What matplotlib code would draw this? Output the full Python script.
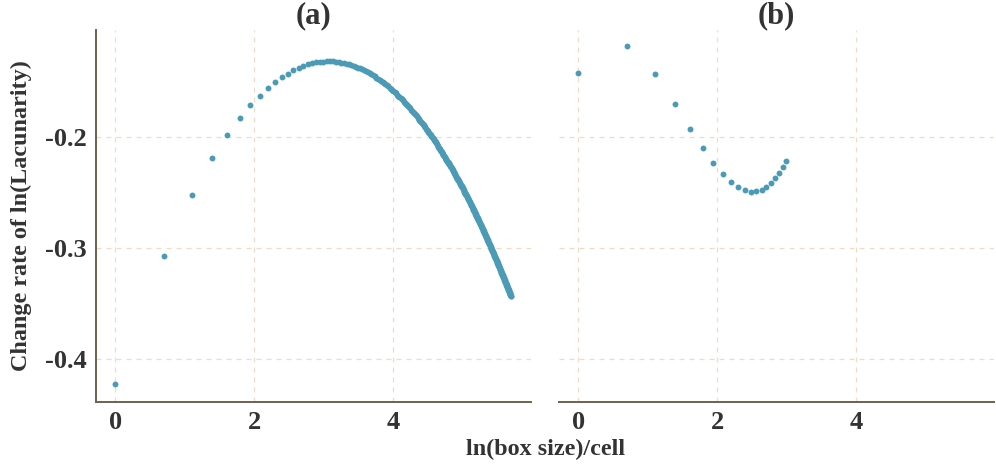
import numpy as np
import matplotlib
matplotlib.use("Agg")
import matplotlib.pyplot as plt

# ---------------- data ----------------
panel_titles = ["(a)", "(b)"]
x_label = "ln(box size)/cell"
y_label = "Change rate of ln(Lacunarity)"
x_ticks = [0, 2, 4]
y_ticks = [-0.4, -0.3, -0.2]
y_tick_labels = ["-0.4", "-0.3", "-0.2"]

# panel (a): change rate for box sizes 1, 2, 3, ...
rate_a = [
    -0.4225, -0.3069, -0.2523, -0.2192, -0.1985, -0.1829, -0.1714, -0.1628, -0.1559, -0.1505,
    -0.1459, -0.1430, -0.1399, -0.1378, -0.1358, -0.1342, -0.1335, -0.1328, -0.1323, -0.1320,
    -0.1318, -0.1318, -0.1319, -0.1322, -0.1325, -0.1329, -0.1334, -0.1339, -0.1345, -0.1352,
    -0.1359, -0.1366, -0.1374, -0.1382, -0.1390, -0.1399, -0.1408, -0.1417, -0.1426, -0.1435,
    -0.1445, -0.1454, -0.1464, -0.1474, -0.1484, -0.1494, -0.1504, -0.1514, -0.1525, -0.1535,
    -0.1545, -0.1556, -0.1566, -0.1576, -0.1587, -0.1597, -0.1608, -0.1618, -0.1629, -0.1639,
    -0.1650, -0.1660, -0.1670, -0.1681, -0.1691, -0.1702, -0.1712, -0.1722, -0.1733, -0.1743,
    -0.1753, -0.1764, -0.1774, -0.1784, -0.1794, -0.1804, -0.1815, -0.1825, -0.1835, -0.1845,
    -0.1855, -0.1865, -0.1875, -0.1885, -0.1895, -0.1904, -0.1914, -0.1924, -0.1934, -0.1944,
    -0.1953, -0.1963, -0.1973, -0.1982, -0.1992, -0.2001, -0.2011, -0.2020, -0.2030, -0.2039,
    -0.2048, -0.2058, -0.2067, -0.2077, -0.2086, -0.2095, -0.2104, -0.2114, -0.2123, -0.2132,
    -0.2141, -0.2150, -0.2158, -0.2167, -0.2176, -0.2185, -0.2194, -0.2203, -0.2212, -0.2221,
    -0.2230, -0.2238, -0.2247, -0.2255, -0.2264, -0.2273, -0.2281, -0.2290, -0.2298, -0.2307,
    -0.2315, -0.2324, -0.2332, -0.2341, -0.2349, -0.2357, -0.2365, -0.2374, -0.2382, -0.2390,
    -0.2398, -0.2406, -0.2414, -0.2422, -0.2430, -0.2438, -0.2446, -0.2454, -0.2462, -0.2470,
    -0.2478, -0.2486, -0.2494, -0.2502, -0.2510, -0.2518, -0.2525, -0.2533, -0.2540, -0.2548,
    -0.2556, -0.2563, -0.2571, -0.2578, -0.2586, -0.2594, -0.2601, -0.2609, -0.2616, -0.2624,
    -0.2631, -0.2639, -0.2646, -0.2654, -0.2661, -0.2668, -0.2675, -0.2683, -0.2690, -0.2697,
    -0.2704, -0.2711, -0.2719, -0.2726, -0.2733, -0.2740, -0.2747, -0.2754, -0.2761, -0.2768,
    -0.2775, -0.2782, -0.2789, -0.2796, -0.2803, -0.2810, -0.2817, -0.2823, -0.2830, -0.2837,
    -0.2844, -0.2851, -0.2857, -0.2864, -0.2871, -0.2878, -0.2885, -0.2891, -0.2898, -0.2905,
    -0.2912, -0.2918, -0.2925, -0.2931, -0.2938, -0.2944, -0.2951, -0.2957, -0.2964, -0.2970,
    -0.2976, -0.2983, -0.2989, -0.2996, -0.3002, -0.3008, -0.3015, -0.3021, -0.3028, -0.3034,
    -0.3040, -0.3046, -0.3053, -0.3059, -0.3065, -0.3071, -0.3077, -0.3084, -0.3090, -0.3096,
    -0.3102, -0.3108, -0.3115, -0.3121, -0.3127, -0.3133, -0.3139, -0.3145, -0.3151, -0.3157,
    -0.3163, -0.3169, -0.3175, -0.3181, -0.3187, -0.3193, -0.3199, -0.3204, -0.3210, -0.3216,
    -0.3222, -0.3228, -0.3233, -0.3239, -0.3245, -0.3251, -0.3257, -0.3262, -0.3268, -0.3274,
    -0.3280, -0.3286, -0.3291, -0.3297, -0.3303, -0.3309, -0.3314, -0.3320, -0.3325, -0.3331,
    -0.3337, -0.3342, -0.3348, -0.3353, -0.3359, -0.3364, -0.3370, -0.3375, -0.3381, -0.3386,
    -0.3392, -0.3397, -0.3403, -0.3408, -0.3414, -0.3419, -0.3425, -0.3430, -0.3435,
]

# panel (b): change rate for box sizes 1..20
rate_b = [
    -0.1426, -0.1180, -0.1435, -0.1705, -0.1925, -0.2102, -0.2234, -0.2333, -0.2405, -0.2453,
    -0.2480, -0.2493, -0.2489, -0.2475, -0.2447, -0.2414, -0.2372, -0.2324, -0.2270, -0.2216,
]

box_size_a = np.arange(1, len(rate_a) + 1)
box_size_b = np.arange(1, len(rate_b) + 1)

# ---------------- style ----------------
FONT = ["Liberation Serif", "DejaVu Serif"]
plt.rcParams["font.family"] = FONT
POINT_COLOR = "#4b9bb6"
GRID_COLOR = "#f0dcc6"
SPINE_COLOR = "#6f604c"
TEXT_COLOR = "#333333"

W, H = 996, 471
fig = plt.figure(figsize=(W / 100, H / 100), dpi=100)
fig.patch.set_facecolor("white")

left_a, left_b, width_px = 96, 559, 435
top_px, bottom_px = 30, 401.7
ax_a = fig.add_axes([left_a / W, (H - bottom_px) / H, width_px / W, (bottom_px - top_px) / H])
ax_b = fig.add_axes([left_b / W, (H - bottom_px) / H, width_px / W, (bottom_px - top_px) / H],
                    sharey=ax_a)

xlim = (-0.28, 5.99)
ylim = (-0.4385, -0.1036)

for ax, sizes, rates, title in [(ax_a, box_size_a, rate_a, panel_titles[0]),
                                (ax_b, box_size_b, rate_b, panel_titles[1])]:
    ax.scatter(np.log(sizes), rates, s=18, color=POINT_COLOR, linewidths=0, zorder=3)
    ax.set_xlim(*xlim)
    ax.set_ylim(*ylim)
    ax.set_xticks(x_ticks)
    ax.set_yticks(y_ticks)
    ax.grid(True, linestyle=(0, (4, 4)), color=GRID_COLOR, linewidth=0.9)
    ax.set_axisbelow(True)
    for s in ["top", "right"]:
        ax.spines[s].set_visible(False)
    ax.spines["bottom"].set_color(SPINE_COLOR)
    ax.spines["bottom"].set_linewidth(1.4)
    ax.spines["left"].set_color(SPINE_COLOR)
    ax.spines["left"].set_linewidth(1.4)
    ax.tick_params(axis="both", length=0, labelsize=19, labelcolor=TEXT_COLOR, pad=7)
    for lab in ax.get_xticklabels() + ax.get_yticklabels():
        lab.set_fontweight("bold")
    ax.set_title(title, fontsize=22, fontweight="bold", color=TEXT_COLOR, pad=2)

ax_a.set_yticklabels(y_tick_labels, fontweight="bold")
ax_b.spines["left"].set_visible(False)
ax_b.tick_params(axis="y", labelleft=False)

fig.text(21 / W, 1 - 216 / H, y_label, rotation=90, ha="center", va="center",
         fontsize=17.4, fontweight="bold", color=TEXT_COLOR)
fig.text(546 / W, 1 - 449 / H, x_label, ha="center", va="center",
         fontsize=17.4, fontweight="bold", color=TEXT_COLOR)

fig.savefig("out.png", dpi=100, facecolor="white")
